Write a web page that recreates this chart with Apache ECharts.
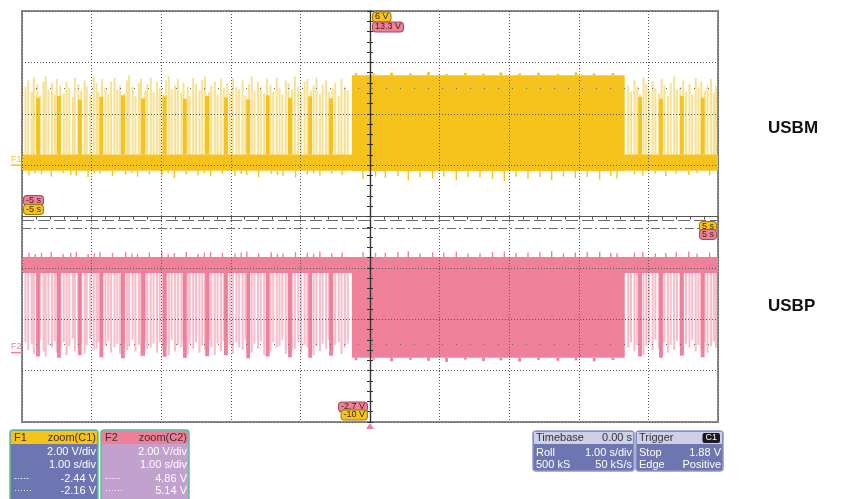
<!DOCTYPE html>
<html lang="en">
<head>
    <meta charset="utf-8" />
    <script src="https://cdn.jsdelivr.net/npm/echarts/dist/echarts.min.js"></script>
    <style>
        html, body { margin: 0; padding: 0; background: #fff; }
        #view1 { width: 843px; height: 499px; }
    </style>
</head>
<body>
<div id="view1"></div>

<script>
    // axes (time in s, F1/F2 in V, 2 V/div, 8 div)
    var timeRange = [-5, 5];
    var f1Range = [-10, 6];
    var f2Range = [-2.7, 13.3];

    // idle levels of both traces
    var f1Band = [-0.22, 0.41];
    var f2Band = [3.1, 3.72];

    // continuous traffic block
    var denseSpan = [-0.26, 3.66];
    var f1DenseTop = 3.5;
    var f2DenseBottom = -0.2;

    // cursors from the F1 / F2 boxes
    var f1Cursors = [-2.44, -2.16];
    var f2Cursors = [4.86, 5.14];
    var f1Guide = 2.98, f2Guide = 0.32;

    // single packets: [t, F1 top, F2 bottom]
    var spikes = [
        [-4.95,3.05,0.40],[-4.91,3.30,0.10],[-4.86,2.85,0.35],[-4.83,3.40,-0.05],[-4.78,3.15,0.25],[-4.74,2.70,0.50],
        [-4.69,3.25,0.05],[-4.66,3.45,-0.15],[-4.62,2.95,0.30],[-4.57,3.20,0.20],[-4.53,2.75,0.45],[-4.50,3.35,0.00],
        [-4.45,3.10,0.15],[-4.40,2.80,0.40],[-4.36,3.25,-0.10],[-4.32,3.00,0.25],[-4.27,2.65,0.55],[-4.24,3.40,0.05],
        [-4.19,3.15,0.20],[-4.15,2.90,0.35],[-4.10,3.30,-0.05],[-4.07,3.05,0.30],[-4.02,2.70,0.50],[-3.97,3.45,0.10],
        [-3.93,3.20,0.15],[-3.90,2.85,0.40],[-3.85,3.35,-0.10],[-3.80,3.00,0.25],[-3.76,2.75,0.45],[-3.72,3.25,0.00],
        [-3.67,3.40,0.20],[-3.63,2.95,0.35],[-3.59,3.10,-0.05],[-3.53,2.80,0.40],[-3.49,3.30,0.10],[-3.46,3.50,0.25],
        [-3.41,3.05,0.50],[-3.37,2.70,0.05],[-3.32,3.20,0.30],[-3.29,3.35,-0.15],[-3.23,2.90,0.45],[-3.20,3.15,0.15],
        [-3.15,3.40,0.20],[-3.11,2.85,0.35],[-3.06,3.25,0.00],[-3.02,3.00,0.40],[-2.98,2.75,0.10],[-2.93,3.30,0.25],
        [-2.89,3.45,-0.10],[-2.85,2.95,0.50],[-2.80,3.10,0.05],[-2.76,3.35,0.30],[-2.71,2.80,0.20],[-2.68,3.20,0.45],
        [-2.62,3.05,-0.05],[-2.59,2.70,0.35],[-2.54,3.40,0.15],[-2.50,3.15,0.40],[-2.45,2.90,0.00],[-2.41,3.30,0.25],
        [-2.37,3.45,0.10],[-2.31,2.85,0.50],[-2.28,3.10,0.20],[-2.23,3.25,-0.10],[-2.19,2.75,0.35],[-2.14,3.35,0.05],
        [-2.10,3.00,0.45],[-2.05,3.20,0.15],[-2.01,2.80,0.30],[-1.97,3.40,-0.05],[-1.92,3.05,0.40],[-1.88,2.95,0.20],
        [-1.83,3.30,0.10],[-1.79,2.70,0.50],[-1.74,3.15,0.25],[-1.70,3.45,0.00],[-1.66,2.90,0.35],[-1.61,3.25,0.15],
        [-1.57,3.05,0.45],[-1.52,2.80,-0.10],[-1.48,3.35,0.30],[-1.43,3.10,0.05],[-1.39,2.85,0.40],[-1.34,3.40,0.20],
        [-1.30,3.00,0.25],[-1.26,2.75,0.50],[-1.21,3.30,-0.05],[-1.17,3.20,0.35],[-1.12,2.95,0.10],[-1.08,3.45,0.15],
        [-1.03,3.05,0.40],[-0.99,2.80,0.00],[-0.94,3.25,0.30],[-0.90,3.35,0.20],[-0.85,2.90,0.45],[-0.81,3.10,-0.10],
        [-0.77,3.40,0.25],[-0.72,2.75,0.05],[-0.68,3.15,0.35],[-0.63,3.30,0.15],[-0.59,2.85,0.50],[-0.54,3.00,0.10],
        [-0.50,3.20,0.30],[-0.45,2.70,0.40],[-0.41,3.35,-0.05],[-0.36,3.05,0.20],[-0.32,2.90,0.35],
        [3.71,3.10,0.20],[3.75,2.85,0.40],[3.80,3.30,0.05],[3.84,3.05,0.30],[3.88,2.75,0.45],[3.93,3.40,-0.10],
        [3.97,3.15,0.25],[4.01,2.90,0.35],[4.06,3.25,0.10],[4.10,3.00,0.50],[4.15,2.80,0.15],[4.19,3.35,0.20],
        [4.23,3.10,0.40],[4.28,2.70,0.00],[4.32,3.20,0.30],[4.37,3.45,0.10],[4.41,2.95,0.45],[4.46,3.05,0.25],
        [4.50,3.30,-0.05],[4.54,2.85,0.35],[4.59,3.15,0.20],[4.63,2.75,0.50],[4.68,3.40,0.05],[4.72,3.00,0.30],
        [4.76,3.25,0.15],[4.81,2.90,0.40],[4.85,3.10,0.00],[4.90,3.35,0.25],[4.94,2.80,0.45],[4.97,3.05,0.20]
    ];

    // packet bursts (solid): [t, F1 top, F2 bottom]
    var bursts = [
        [-4.77,2.62,-0.15],[-4.47,2.70,-0.20],[-4.17,2.55,-0.10],[-3.86,2.66,-0.18],[-3.55,2.72,-0.22],
        [-3.26,2.60,-0.12],[-2.95,2.68,-0.16],[-2.66,2.58,-0.20],[-2.34,2.70,-0.14],[-2.07,2.64,-0.10],
        [-1.75,2.56,-0.22],[-1.47,2.72,-0.15],[-1.15,2.62,-0.18],[-0.86,2.68,-0.20],[-0.56,2.60,-0.12],
        [3.88,2.66,-0.15],[4.18,2.58,-0.20],[4.48,2.70,-0.12],[4.78,2.62,-0.18]
    ];

    // noise off the idle level: [t, F1 low, F2 high]
    var noise = [
        [-4.90,-0.40,3.90],[-4.81,-0.33,3.84],[-4.72,-0.36,3.88],[-4.58,-0.44,3.92],[-4.41,-0.32,3.85],
        [-4.30,-0.38,3.89],[-4.22,-0.41,3.91],[-4.05,-0.46,3.84],[-3.96,-0.33,3.87],[-3.88,-0.34,3.93],
        [-3.70,-0.42,3.88],[-3.51,-0.37,3.91],[-3.42,-0.31,3.86],[-3.34,-0.45,3.85],[-3.17,-0.35,3.90],
        [-2.99,-0.41,3.94],[-2.90,-0.33,3.85],[-2.81,-0.50,3.87],[-2.64,-0.36,3.92],[-2.47,-0.40,3.84],
        [-2.38,-0.32,3.89],[-2.29,-0.44,3.93],[-2.12,-0.34,3.88],[-1.94,-0.42,3.86],[-1.85,-0.35,3.90],
        [-1.77,-0.38,3.94],[-1.60,-0.46,3.87],[-1.42,-0.35,3.91],[-1.33,-0.39,3.85],[-1.25,-0.41,3.86],
        [-1.07,-0.48,3.92],[-0.90,-0.37,3.89],[-0.81,-0.33,3.85],[-0.72,-0.43,3.94],[-0.55,-0.34,3.87],
        [-0.40,-0.38,3.90],[-0.10,-0.55,3.93],[0.08,-0.45,3.88],[0.22,-0.50,3.89],[0.40,-0.42,3.92],
        [0.55,-0.60,3.95],[0.72,-0.47,3.87],[0.90,-0.52,3.91],[1.06,-0.44,3.89],[1.24,-0.58,3.94],
        [1.41,-0.46,3.86],[1.58,-0.48,3.87],[1.76,-0.53,3.92],[1.93,-0.62,3.93],[2.10,-0.45,3.88],
        [2.27,-0.54,3.90],[2.44,-0.47,3.93],[2.61,-0.58,3.95],[2.78,-0.44,3.87],[2.95,-0.50,3.90],
        [3.12,-0.46,3.91],[3.30,-0.56,3.93],[3.46,-0.43,3.88],[3.55,-0.52,3.87],[3.80,-0.36,3.90],
        [3.92,-0.40,3.92],[4.10,-0.33,3.86],[4.25,-0.42,3.88],[4.40,-0.35,3.91],[4.58,-0.38,3.94],
        [4.70,-0.32,3.86],[4.88,-0.41,3.90]
    ];

    // ragged edge of the traffic block: [t, F1 top, F2 bottom]
    var denseEdge = [
        [-0.20,3.58,-0.30],[0.05,3.56,-0.27],[0.31,3.60,-0.34],[0.58,3.57,-0.28],[0.84,3.62,-0.32],
        [1.10,3.55,-0.36],[1.37,3.59,-0.27],[1.63,3.56,-0.33],[1.88,3.61,-0.30],[2.15,3.57,-0.35],
        [2.42,3.60,-0.28],[2.70,3.55,-0.32],[2.96,3.61,-0.30],[3.22,3.57,-0.34],[3.49,3.59,-0.29]
    ];

    var yellow = '#f5c31c', yellowPale = 'rgba(240,195,40,0.5)';
    var pink = '#ef8099', pinkPale = 'rgba(232,110,145,0.45)';
    var FONT = 'Liberation Sans, Arial, sans-serif';

    window.onload = function(){
        var chart = echarts.init(document.getElementById('view1'), null, {renderer: 'canvas'});
        chart.setOption(buildOption());
        chart.setOption({graphic: buildGraphic(chart)});
    };

    function sticks(name, data, yIdx, color, widthS, z){
        return {
            name: name, type: 'custom', xAxisIndex: 0, yAxisIndex: yIdx, z: z, silent: true, clip: true,
            data: data, encode: {x: 0, y: [1, 2]},
            renderItem: function(params, api){
                var a = api.coord([api.value(0), api.value(1)]);
                var b = api.coord([api.value(0), api.value(2)]);
                var w = Math.max(api.size([widthS, 0])[0], 1);
                return {type: 'rect', shape: {x: a[0] - w / 2, y: Math.min(a[1], b[1]), width: w, height: Math.abs(a[1] - b[1])},
                    style: {fill: color}};
            }
        };
    }

    function block(name, data, yIdx, color, z){
        return {
            name: name, type: 'custom', xAxisIndex: 0, yAxisIndex: yIdx, z: z, silent: true, clip: true,
            data: data, encode: {x: [0, 1], y: [2, 3]},
            renderItem: function(params, api){
                var a = api.coord([api.value(0), api.value(3)]);
                var b = api.coord([api.value(1), api.value(2)]);
                return {type: 'rect', shape: {x: a[0], y: a[1], width: b[0] - a[0], height: b[1] - a[1]}, style: {fill: color}};
            }
        };
    }

    function buildOption(){
        var hidden = {show: false};
        var dotted = {show: true, lineStyle: {color: '#5a5a5a', type: [1, 2], width: 1}};
        var series = [
            sticks('F1 packets', spikes.map(function(s){ return [s[0], f1Band[1], s[1]]; }), 1, yellowPale, 0.03, 2),
            sticks('F1 bursts', bursts.map(function(s){ return [s[0], f1Band[1], s[1]]; }), 1, yellow, 0.055, 3),
            block('F1 idle', [[timeRange[0], timeRange[1], f1Band[0], f1Band[1]]], 1, yellow, 3),
            block('F1 traffic', [[denseSpan[0], denseSpan[1], f1Band[0], f1DenseTop]], 1, yellow, 3),
            sticks('F1 edge', denseEdge.map(function(s){ return [s[0], f1DenseTop, s[1]]; }), 1, yellow, 0.04, 3),
            sticks('F1 noise', noise.map(function(s){ return [s[0], f1Band[0], s[1]]; }), 1, yellow, 0.02, 3),

            sticks('F2 packets', spikes.map(function(s){ return [s[0], f2Band[0], s[2]]; }), 2, pinkPale, 0.03, 2),
            sticks('F2 bursts', bursts.map(function(s){ return [s[0], f2Band[0], s[2]]; }), 2, pink, 0.055, 3),
            block('F2 idle', [[timeRange[0], timeRange[1], f2Band[0], f2Band[1]]], 2, pink, 3),
            block('F2 traffic', [[denseSpan[0], denseSpan[1], f2DenseBottom, f2Band[1]]], 2, pink, 3),
            sticks('F2 edge', denseEdge.map(function(s){ return [s[0], f2DenseBottom, s[2]]; }), 2, pink, 0.04, 3),
            sticks('F2 noise', noise.map(function(s){ return [s[0], f2Band[1], s[2]]; }), 2, pink, 0.02, 3),

            {
                name: 'F1 cursors', type: 'line', xAxisIndex: 0, yAxisIndex: 1, data: [], z: 6, silent: true,
                markLine: {
                    symbol: 'none', silent: true, label: {show: false}, animation: false,
                    data: [
                        {yAxis: f1Cursors[0], lineStyle: {color: '#6a6a6a', width: 1.2, type: [9, 3, 2, 3]}},
                        {yAxis: f1Cursors[1], lineStyle: {color: '#6a6a6a', width: 1.2, type: [12, 4]}},
                        {yAxis: f1Guide, lineStyle: {color: '#6a6a6a', width: 1, type: [1, 13]}}
                    ]
                }
            },
            {
                name: 'F2 guide', type: 'line', xAxisIndex: 0, yAxisIndex: 2, data: [], z: 6, silent: true,
                markLine: {
                    symbol: 'none', silent: true, label: {show: false}, animation: false,
                    data: [{yAxis: f2Guide, lineStyle: {color: '#6a6a6a', width: 1, type: [1, 13]}}]
                }
            }
        ];

        return {
            animation: false,
            grid: {left: 22, right: 125, top: 11, bottom: 77, show: true, borderColor: '#8a8a8a', borderWidth: 2, backgroundColor: '#fff'},
            xAxis: [
                {type: 'value', min: timeRange[0], max: timeRange[1], interval: 1, z: 10,
                    axisLine: hidden, axisTick: hidden, axisLabel: hidden, splitLine: dotted},
                {type: 'value', min: timeRange[0], max: timeRange[1], interval: 1, z: 11,
                    axisLine: {show: true, onZero: true, onZeroAxisIndex: 0, lineStyle: {color: '#555', width: 1}},
                    axisTick: {show: true, inside: true, length: 3, lineStyle: {color: '#555'}},
                    minorTick: {show: true, splitNumber: 5, length: 3, lineStyle: {color: '#555'}},
                    axisLabel: hidden, splitLine: hidden}
            ],
            yAxis: [
                {type: 'value', min: -4, max: 4, interval: 1, z: 10,
                    axisLine: hidden, axisTick: hidden, axisLabel: hidden, splitLine: dotted},
                {type: 'value', min: f1Range[0], max: f1Range[1], show: false},
                {type: 'value', min: f2Range[0], max: f2Range[1], show: false},
                {type: 'value', min: -4, max: 4, interval: 1, z: 11,
                    axisLine: {show: true, onZero: true, onZeroAxisIndex: 0, lineStyle: {color: '#333', width: 1.4}},
                    axisTick: {show: true, inside: false, length: 3, lineStyle: {color: '#333'}},
                    minorTick: {show: true, splitNumber: 5, length: 3, lineStyle: {color: '#333'}},
                    axisLabel: hidden, splitLine: hidden},
                {type: 'value', min: -4, max: 4, interval: 1, z: 11,
                    axisLine: {show: false, onZero: true, onZeroAxisIndex: 0},
                    axisTick: {show: true, inside: true, length: 3, lineStyle: {color: '#333'}},
                    minorTick: {show: true, splitNumber: 5, length: 3, lineStyle: {color: '#333'}},
                    axisLabel: hidden, splitLine: hidden}
            ],
            series: series
        };
    }

    function badge(text, x, y, fill, stroke, align){
        return {type: 'text', z: 20, silent: true,
            style: {text: text, x: x, y: y, align: align || 'left', verticalAlign: 'middle',
                font: '9px ' + FONT, fill: '#3a2a10', backgroundColor: fill, borderColor: stroke,
                borderWidth: 1, borderRadius: 3, padding: [0, 2, 0, 2]}};
    }

    function txt(text, x, y, color, align, font){
        return {type: 'text', z: 20, silent: true,
            style: {text: text, x: x, y: y, align: align || 'left', verticalAlign: 'middle',
                font: font || ('11px ' + FONT), fill: color}};
    }

    function rect(x, y, w, h, fill, stroke, r){
        return {type: 'rect', z: 19, silent: true, shape: {x: x, y: y, width: w, height: h, r: r || 0},
            style: {fill: fill, stroke: stroke || null, lineWidth: stroke ? 1.5 : 0}};
    }

    function buildGraphic(chart){
        var x0 = chart.convertToPixel({xAxisIndex: 0}, 0);
        var xL = chart.convertToPixel({xAxisIndex: 0}, timeRange[0]);
        var xR = chart.convertToPixel({xAxisIndex: 0}, timeRange[1]);
        var yTop = chart.convertToPixel({yAxisIndex: 1}, f1Range[1]);
        var yBot = chart.convertToPixel({yAxisIndex: 1}, f1Range[0]);
        var yF1 = chart.convertToPixel({yAxisIndex: 1}, 0);
        var yF2 = chart.convertToPixel({yAxisIndex: 2}, 0);
        var yMid = chart.convertToPixel({yAxisIndex: 0}, 0);

        var g = [];
        // range badges on the centre line
        g.push(badge(f1Range[1] + ' V', x0 + 3, yTop + 6, yellow, '#9a7a18'));
        g.push(badge(f2Range[1] + ' V', x0 + 3, yTop + 16, pink, '#a04a60'));
        g.push(badge(f2Range[0] + ' V', x0 - 3, yBot - 15, pink, '#a04a60', 'right'));
        g.push(badge(f1Range[0] + ' V', x0 - 3, yBot - 7, yellow, '#9a7a18', 'right'));
        // time badges at the edges
        g.push(badge(timeRange[0] + ' s', xL + 2, yMid - 16, pink, '#a04a60'));
        g.push(badge(timeRange[0] + ' s', xL + 2, yMid - 7, yellow, '#9a7a18'));
        g.push(badge(timeRange[1] + ' s', xR - 2, yMid + 10, yellow, '#9a7a18', 'right'));
        g.push(badge(timeRange[1] + ' s', xR - 2, yMid + 18, pink, '#a04a60', 'right'));
        // trigger marker
        g.push({type: 'polygon', z: 20, silent: true, shape: {points: [[x0 - 4, yBot + 7], [x0 + 4, yBot + 7], [x0, yBot + 1]]},
            style: {fill: pink}});
        // trace reference marks
        g.push(txt('F1', 11, yF1 - 6, yellow, 'left', '9px ' + FONT));
        g.push({type: 'line', z: 20, silent: true, shape: {x1: 11, y1: yF1, x2: 22, y2: yF1}, style: {stroke: yellow, lineWidth: 1.5}});
        g.push(txt('F2', 11, yF2 - 6, pink, 'left', '9px ' + FONT));
        g.push({type: 'line', z: 20, silent: true, shape: {x1: 11, y1: yF2, x2: 22, y2: yF2}, style: {stroke: pink, lineWidth: 1.5}});

        // channel names
        g.push(txt('USBM', 768, 128, '#111', 'left', 'bold 17px ' + FONT));
        g.push(txt('USBP', 768, 306, '#111', 'left', 'bold 17px ' + FONT));

        // F1 / F2 boxes
        var boxes = [
            {x: 10, head: yellow, body: '#6e76b1', name: 'F1', src: 'zoom(C1)', c: f1Cursors},
            {x: 101, head: '#ee7f9a', body: '#c3a1cf', name: 'F2', src: 'zoom(C2)', c: f2Cursors}
        ];
        boxes.forEach(function(b){
            g.push(rect(b.x, 430, 88, 75, b.body, '#5fc18f', 3));
            g.push(rect(b.x + 1, 431, 86, 13, b.head));
            g.push(txt(b.name, b.x + 4, 438, '#333'));
            g.push(txt(b.src, b.x + 86, 438, '#333', 'right'));
            g.push(txt('2.00 V/div', b.x + 86, 452, '#fff', 'right'));
            g.push(txt('1.00 s/div', b.x + 86, 465, '#fff', 'right'));
            g.push(txt('-·-·-', b.x + 4, 479, '#fff', 'left', '9px ' + FONT));
            g.push(txt(b.c[0].toFixed(2) + ' V', b.x + 86, 479, '#fff', 'right'));
            g.push(txt('······', b.x + 4, 491, '#fff', 'left', '9px ' + FONT));
            g.push(txt(b.c[1].toFixed(2) + ' V', b.x + 86, 491, '#fff', 'right'));
        });

        // Timebase / Trigger boxes
        g.push(rect(533, 431, 101, 40, '#6e76b1', '#8f96c8', 3));
        g.push(rect(534, 432, 99, 12, '#cdd0e6'));
        g.push(txt('Timebase', 536, 438, '#333'));
        g.push(txt('0.00 s', 632, 438, '#333', 'right'));
        g.push(txt('Roll', 536, 453, '#fff'));
        g.push(txt('1.00 s/div', 632, 453, '#fff', 'right'));
        g.push(txt('500 kS', 536, 465, '#fff'));
        g.push(txt('50 kS/s', 632, 465, '#fff', 'right'));

        g.push(rect(636, 431, 87, 40, '#6e76b1', '#8f96c8', 3));
        g.push(rect(637, 432, 85, 12, '#cdd0e6'));
        g.push(txt('Trigger', 639, 438, '#333'));
        g.push({type: 'text', z: 21, silent: true, style: {text: 'C1', x: 720, y: 438, align: 'right', verticalAlign: 'middle',
            font: '9px ' + FONT, fill: '#fff', backgroundColor: '#1a1a1a', borderRadius: 2, padding: [1, 3, 0, 3]}});
        g.push(txt('Stop', 639, 453, '#fff'));
        g.push(txt('1.88 V', 721, 453, '#fff', 'right'));
        g.push(txt('Edge', 639, 465, '#fff'));
        g.push(txt('Positive', 721, 465, '#fff', 'right'));
        return g;
    }
</script>
</body>
</html>
